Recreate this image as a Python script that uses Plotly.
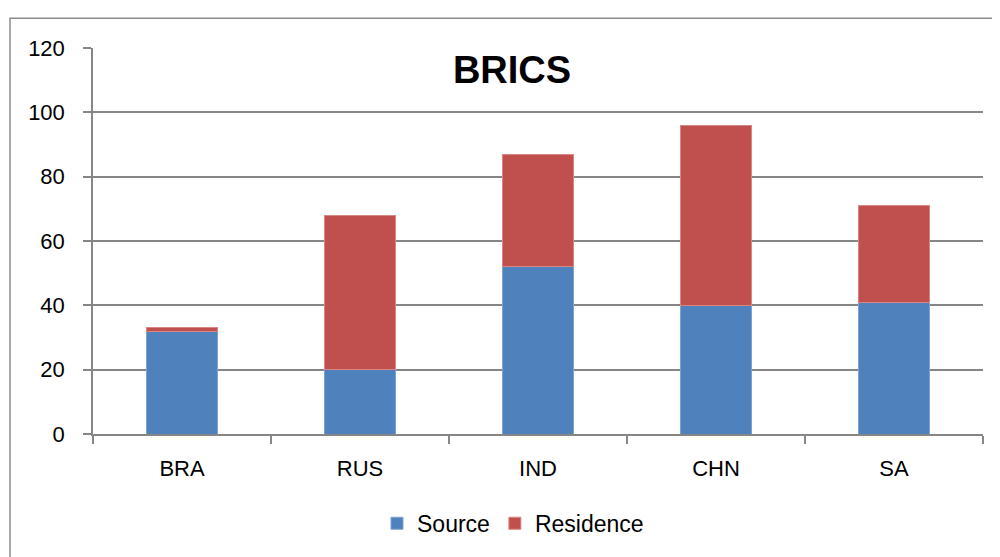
import plotly.graph_objects as go

countries = ["BRA", "RUS", "IND", "CHN", "SA"]
source = [32, 20, 52, 40, 41]
residence = [1, 48, 35, 56, 30]

font = "Liberation Sans"
grid = "#868686"

# page body has an 8px margin, so the figure is 8px smaller and margins shifted
W, H = 992, 549
L, T = 85, 40
PW, PH = 890, 389

fig = go.Figure()
fig.add_trace(go.Bar(x=countries, y=source, name="Source",
                     marker=dict(color="#4F81BD", line=dict(color="#7FA3D1", width=1))))
fig.add_trace(go.Bar(x=countries, y=residence, name="Residence",
                     marker=dict(color="#C0504D", line=dict(color="#D98784", width=1))))

fig.update_layout(
    barmode="stack",
    bargap=0.6,
    width=W, height=H,
    margin=dict(l=L, r=W - L - PW, t=T, b=H - T - PH, pad=0),
    paper_bgcolor="white", plot_bgcolor="white",
    font=dict(family=font, size=22, color="black"),
    title=dict(text="<b>BRICS</b>", x=(512 - 93) / PW, xref="paper", xanchor="center",
               y=1 - 62 / H, yanchor="middle", font=dict(size=38, family=font)),
    legend=dict(orientation="h", x=(513 - 93) / PW, xanchor="center",
                y=(437 - 527) / PH, yanchor="middle",
                font=dict(size=23), itemwidth=30, traceorder="normal"),
    showlegend=True,
)
fig.update_yaxes(range=[0, 120], dtick=20, showgrid=True, gridcolor=grid, gridwidth=1.5,
                 showline=True, linecolor=grid, linewidth=1.5,
                 ticks="outside", ticklen=8, tickcolor=grid, tickwidth=1.5,
                 ticklabelstandoff=14, zeroline=False)
fig.update_xaxes(showline=True, linecolor=grid, linewidth=1.5,
                 ticks="outside", ticklen=8, tickcolor=grid, tickwidth=1.5,
                 tickson="boundaries", ticklabelstandoff=14)

# outer chart frame (left edge kept just inside the figure)
fig.add_shape(type="rect", xref="paper", yref="paper",
              x0=(10 - 93) / PW, x1=(1020 - 93) / PW,
              y0=(437 - 580) / PH, y1=(437 - 18) / PH,
              line=dict(color="#8C8C8C", width=1.5), layer="below")

fig.write_html("out.html")
